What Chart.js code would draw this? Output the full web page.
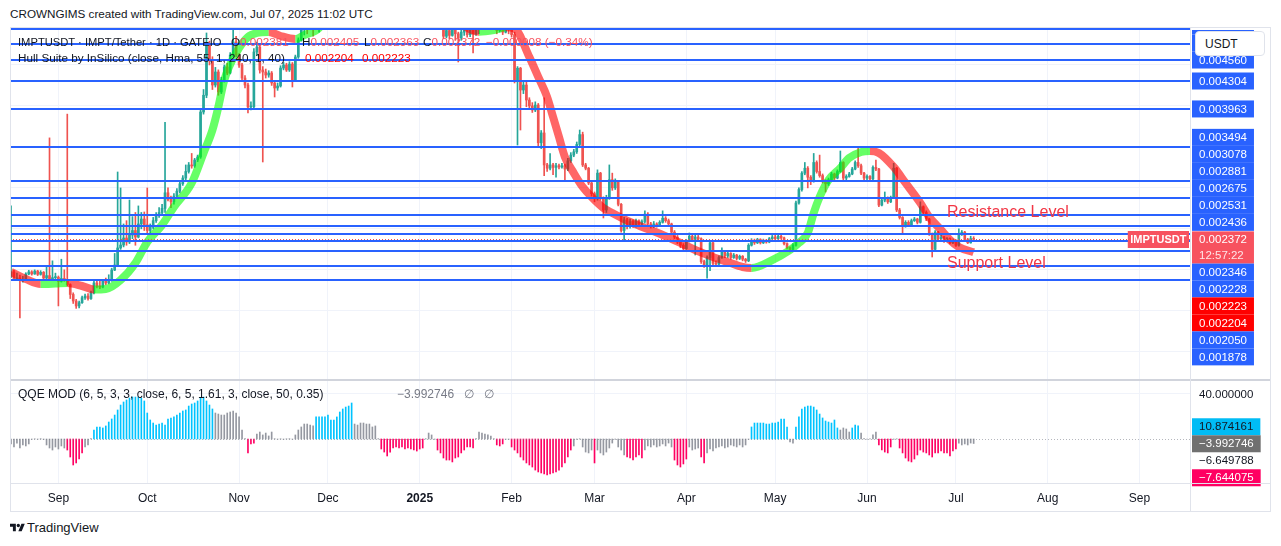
<!DOCTYPE html>
<html>
<head>
<meta charset="utf-8">
<title>IMPTUSDT 1D</title>
<script src="https://cdn.jsdelivr.net/npm/chart.js@4.4.1/dist/chart.umd.min.js"></script>
<style>
  html, body { margin: 0; padding: 0; background: #fff; }
  body { width: 1281px; height: 546px; position: relative; overflow: hidden;
         font-family: "Liberation Sans", Arial, sans-serif; color: #131722; }
  .abs { position: absolute; white-space: nowrap; }
  .box { position: absolute; }
  .txt { font-size: 11.7px; line-height: 14px; }
  .red { color: #f7525f; }
  .hot { color: #ff0000; }
  .line { position: absolute; background: #e0e3eb; }
</style>
</head>
<body>

<div class="abs txt" style="left:10px;top:7px;">CROWNGIMS created with TradingView.com, Jul 07, 2025 11:02 UTC</div>

<div class="box" style="left:10px;top:28px;width:1260px;height:352px;"><canvas id="mainChart"></canvas></div>
<div class="box" style="left:10px;top:380px;width:1260px;height:131px;"><canvas id="qqeChart"></canvas></div>

<!-- frame -->
<div class="line" style="left:10px;top:27px;width:1260px;height:1px;"></div>
<div class="line" style="left:10px;top:379px;width:1260px;height:2px;background:#d1d4dc;"></div>
<div class="line" style="left:10px;top:483px;width:1260px;height:1px;"></div>
<div class="line" style="left:10px;top:511px;width:1260px;height:1px;"></div>
<div class="line" style="left:10px;top:27px;width:1px;height:485px;"></div>
<div class="line" style="left:1190px;top:27px;width:1px;height:485px;"></div>
<div class="line" style="left:1270px;top:27px;width:1px;height:485px;"></div>

<!-- legends -->
<div class="abs txt" style="left:18px;top:35px;font-size:11.2px;">IMPTUSDT · IMPT/Tether · 1D · GATEIO</div>
<div class="abs txt" style="left:231px;top:35px;">O<span class="red">0.002381</span></div>
<div class="abs txt" style="left:302px;top:35px;">H<span class="red">0.002405</span></div>
<div class="abs txt" style="left:364px;top:35px;">L<span class="red">0.002363</span></div>
<div class="abs txt" style="left:423px;top:35px;">C<span class="red">0.002372</span></div>
<div class="abs txt red" style="left:486px;top:35px;">−0.000008 (−0.34%)</div>
<div class="abs txt" style="left:18px;top:51px;">Hull Suite by InSilico (close, Hma, 55, 1, 240, 1, 40)</div>
<div class="abs txt hot" style="left:305px;top:51px;">0.002204</div>
<div class="abs txt hot" style="left:362px;top:51px;">0.002223</div>
<div class="abs txt" style="left:18px;top:387px;font-size:12px;">QQE MOD (6, 5, 3, 3, close, 6, 5, 1.61, 3, close, 50, 0.35)</div>
<div class="abs txt" style="left:397px;top:387px;font-size:12px;color:#787b86;">−3.992746&nbsp;&nbsp; ∅&nbsp;&nbsp; ∅</div>

<div class="abs txt" style="left:1195px;top:31px;width:70px;height:25px;line-height:25px;border:1px solid #e0e3eb;border-radius:4px;background:#fff;padding-left:9px;box-sizing:border-box;font-size:12px;">USDT</div>

<div class="abs" style="left:10px;top:521px;height:14px;">
  <svg width="15" height="12" viewBox="0 0 36 28" style="vertical-align:top;margin-top:1px;">
    <path d="M14 22H7V11H0V4h14v18zM28 22h-8l7.5-18h8L28 22z" fill="#131722"/>
    <circle cx="20" cy="8" r="4" fill="#131722"/>
  </svg><span style="font-size:13px;line-height:14px;margin-left:2px;vertical-align:top;">TradingView</span>
</div>

<script>
// daily candles, index 0 = 16 Aug 2024 ... index 325 = 7 Jul 2025
// prices in millionths of USDT (2372 = 0.002372)
const firstOpen = 1920;
const closes = [
  1975,1890,1900,1870,1880,1950,1975,1950,1985,1945,
  1970,1900,1930,1880,1905,1910,1860,1895,1880,1820,
  1700,1620,1560,1600,1660,1680,1650,1720,1840,1800,
  1790,1860,1840,1876,1998,2059,2267,2303,2389,2340,
  2425,2480,2400,2560,2620,2550,2480,2520,2600,2660,
  2700,2750,2940,2860,2830,2900,2960,3050,3120,3200,
  3280,3267,3340,3377,3926,4130,4740,4560,4255,4414,
  4170,4316,4475,4401,4621,4780,4621,4499,4340,4255,
  3987,3990,4658,4719,4438,4414,4377,4401,4280,4219,
  4243,4462,4499,4438,4511,4316,4597,4804,4963,5050,
  5000,5100,5050,5150,5200,5300,5450,5600,5750,5700,
  5900,6100,6000,6200,6350,6250,6300,6150,6200,6050,
  5950,6000,5850,5700,5750,5550,5400,5450,5350,5300,
  5400,5250,5300,5200,5250,5150,5200,5100,5150,5050,
  5150,5200,5150,5050,4980,5000,4850,4920,4860,4950,
  4880,4830,4900,4950,4870,4930,4880,4940,4990,5050,
  5100,5150,5100,5000,4920,4970,4900,4960,4930,4870,
  4316,4460,4194,4255,4072,4000,3950,4011,3550,3670,
  3280,3240,3280,3250,3270,3255,3270,3230,3330,3400,
  3440,3530,3650,3280,3240,3060,2930,2870,3180,2870,
  2730,2880,3100,3000,3080,2800,2480,2610,2530,2590,
  2540,2600,2560,2590,2680,2560,2530,2560,2540,2580,
  2630,2600,2560,2460,2400,2340,2300,2260,2350,2410,
  2370,2400,2380,2100,2060,2150,2330,2080,2070,2150,
  2220,2170,2200,2150,2180,2140,2165,2130,2110,2300,
  2360,2330,2370,2330,2360,2340,2380,2400,2380,2410,
  2390,2320,2270,2250,2300,2816,2980,3180,3240,3130,
  3080,3310,3200,3150,3080,3050,3100,3170,3120,3200,
  3310,3120,3140,3170,3230,3310,3270,3180,3120,3140,
  3110,3250,3230,2790,2850,2870,2830,2880,3240,2730,
  2640,2540,2580,2550,2600,2620,2580,2770,2700,2620,
  2440,2250,2460,2380,2400,2350,2380,2330,2360,2300,
  2440,2460,2370,2330,2381,2372
];
const highs = [
  2780,1995,1960,1935,1920,1965,1995,1990,2000,1995,
  1990,1980,2050,3610,2110,1960,1925,2130,2000,3900,
  1830,1720,1640,1620,1680,1705,1710,1740,1860,1870,
  1860,1880,1900,1940,2020,2200,3194,2999,2560,2600,
  2852,2650,2700,2780,2700,2706,2999,2560,2640,2700,
  2760,2800,3800,3000,2900,2930,2990,3080,3150,3280,
  3310,3420,3360,3400,3960,4200,4890,4790,4600,4470,
  4440,4350,4500,4520,4650,4938,4850,4640,4520,4370,
  4280,4050,4700,4780,4740,4480,4450,4430,4420,4300,
  4280,4490,4530,4520,4540,4530,4620,4830,5000,5100,
  5120,5150,5160,5200,5300,5380,5550,5700,5850,5900,
  6000,6250,6200,6300,6500,6450,6400,6350,6300,6250,
  6100,6100,6050,5900,5850,5800,5600,5550,5500,5400,
  5480,5420,5380,5330,5320,5280,5260,5230,5200,5180,
  5200,5260,5240,5170,5070,5060,5050,4950,4940,4990,
  4970,4900,4930,5000,4960,4960,4950,4980,5050,5100,
  5150,5200,5180,5120,5010,5000,4990,4990,4980,4990,
  4900,4480,4470,4300,4290,4100,4040,4050,4030,3700,
  4100,3300,3420,3300,3300,3290,3300,3290,3360,3430,
  3470,3560,3706,3680,3300,3250,3080,2950,3220,3190,
  2890,2910,3280,3180,3110,3090,2810,2640,2630,2620,
  2610,2620,2610,2610,2720,2700,2580,2590,2575,2600,
  2720,2650,2620,2570,2480,2420,2360,2320,2370,2450,
  2430,2430,2420,2390,2120,2170,2350,2340,2110,2170,
  2270,2230,2220,2210,2200,2190,2180,2175,2140,2320,
  2380,2375,2385,2380,2375,2370,2395,2420,2440,2425,
  2420,2400,2330,2280,2320,2840,3000,3200,3310,3260,
  3150,3420,3330,3400,3170,3100,3120,3190,3180,3220,
  3450,3320,3160,3190,3250,3330,3500,3290,3190,3160,
  3150,3270,3340,3240,2870,2950,2890,2900,3300,3250,
  2750,2650,2600,2600,2620,2640,2630,2830,2780,2720,
  2630,2450,2480,2470,2420,2410,2395,2390,2375,2370,
  2500,2480,2470,2385,2410,2405
];
const lows = [
  1905,1880,1870,1413,1850,1870,1940,1935,1945,1930,
  1935,1885,1890,1870,1870,1885,1560,1850,1860,1805,
  1650,1590,1530,1535,1590,1640,1630,1640,1705,1780,
  1770,1780,1820,1830,1860,1990,2040,2250,2280,2300,
  2320,2380,2300,2390,2500,2480,2440,2450,2500,2580,
  2640,2680,2700,2840,2760,2800,2880,2940,3030,3100,
  3180,3240,3250,3320,3360,3900,4100,4500,4200,4230,
  4130,4150,4290,4380,4390,4600,4600,4470,4310,4220,
  3914,3950,3975,4620,4400,3316,4340,4350,4250,4109,
  4190,4230,4440,4420,4420,4231,4300,4580,4790,4865,
  4880,4930,4850,4960,4900,5050,5200,5380,5520,5600,
  5650,5850,5900,5950,6100,6150,6150,6050,6050,5950,
  5850,5850,5750,5600,5600,5450,4960,5300,5250,5200,
  5250,5150,5200,5120,5150,5080,5100,5040,5060,5000,
  5020,5120,5090,5000,4960,4950,4820,4830,4820,4850,
  4800,4536,4800,4860,4840,4846,4646,4860,4880,4950,
  4990,5060,5050,4930,4880,4900,4870,4890,4880,4840,
  4280,3523,3706,4150,3990,3960,3920,3930,3500,3480,
  3150,3200,3220,3160,3130,3230,3240,3100,3210,3310,
  3380,3420,3510,3260,3220,3040,2900,2830,2850,2850,
  2633,2700,2860,2970,2980,2780,2460,2364,2500,2510,
  2520,2520,2540,2540,2570,2540,2510,2515,2520,2530,
  2570,2580,2540,2440,2380,2320,2270,2240,2250,2340,
  2350,2181,2360,2080,2030,1900,1990,2060,2040,2060,
  2140,2150,2150,2130,2140,2120,2125,2110,2090,2100,
  2290,2310,2320,2315,2320,2325,2330,2370,2365,2370,
  2375,2305,2255,2220,2240,2290,2800,2960,3160,3000,
  3040,3070,3180,3130,3060,2950,3030,3090,3100,3110,
  3190,3100,3100,3130,3160,3220,3250,3160,3090,3100,
  3090,3100,3210,2770,2780,2830,2810,2820,2870,2710,
  2620,2450,2520,2530,2540,2590,2560,2570,2680,2600,
  2420,2157,2240,2360,2370,2335,2340,2315,2320,2285,
  2290,2420,2355,2320,2325,2363
];
// daily candles open at the previous close
const opens = closes.map((c, i) => i === 0 ? firstOpen : closes[i - 1]);

// Hull Suite band, read every few days
const hullDays = [0,5,10,15,19,24,28,32,37,42,46,51,55,61,65,68,70,72,76,80,83,87,91,96,99,104,
  110,120,130,140,146,152,156,158,163,167,170,175,178,181,183,185,187,190,193,196,200,203,209,214,
  220,226,231,237,242,247,250,257,263,266,269,271,273,276,280,283,287,290,293,298,302,307,310,314,317,320,325];
const hullValues = [1974,1888,1827,1833,1840,1803,1760,1766,1876,2084,2340,2547,2767,3060,3426,3706,3987,4316,4646,4841,4890,4902,4853,4816,4865,4951,
  5300,5600,5500,5200,5150,5000,4920,4905,4925,4960,4945,4597,4353,4109,3865,3621,3377,3182,3011,2889,2755,2694,2584,2511,
  2425,2328,2242,2157,2096,2035,2023,2120,2242,2328,2450,2694,2889,3096,3243,3365,3438,3450,3426,3255,3060,2816,2645,2486,2364,2279,2214];

// horizontal levels drawn on the chart
const levels = [4938, 4755, 4560, 4304, 3963, 3494, 3078, 2881, 2675, 2531, 2436, 2346, 2228, 2050, 1878];
const hullLast = [2223, 2204];
const lastPrice = 2372;

// QQE MOD histogram, one bar per day
const qqeValues = [
  -4.4,-7.1,-3.6,-8.0,-5.3,-6.2,-4.4,-0.3,0.2,-0.2,
  0.3,-0.4,-5.3,-8.0,-9.8,-7.1,-8.9,-6.2,-8.0,-9.8,
  -16.0,-23.1,-21.3,-17.8,-12.4,-7.1,-5.3,0.3,8.0,10.7,
  10.7,9.8,11.6,15.1,17.8,21.3,25.8,30.2,32.9,34.7,
  36.4,37.3,37.3,37.3,36.4,33.8,23.1,16.9,14.2,12.4,
  13.3,14.2,12.4,17.8,18.7,19.6,21.3,23.1,24.9,25.8,
  29.3,31.1,32.0,33.8,36.4,37.3,33.8,30.2,26.7,23.1,
  22.2,21.3,21.3,23.1,24.0,24.9,23.1,19.6,8.0,0.4,
  -12.4,-4.4,-3.6,4.4,6.2,3.6,5.3,2.7,6.2,0.3,
  -0.2,0.2,-0.3,0.2,0.3,-0.2,3.6,8.0,10.7,13.3,
  13.3,12.4,11.6,19.6,19.6,19.6,19.6,21.3,16.9,16.9,
  19.6,24.0,26.7,28.4,29.3,32.0,13.3,12.4,14.2,14.2,
  13.3,13.3,10.7,11.6,0.3,-8.9,-11.6,-15.1,-11.6,-8.0,
  -7.1,-8.0,-7.1,-8.9,-8.0,-8.9,-9.8,-10.7,-8.9,-8.0,
  0.3,5.3,3.6,-0.3,-9.8,-12.4,-16.9,-18.7,-18.7,-20.4,
  -16.9,-16.0,-12.4,-9.8,-7.1,-7.1,-8.0,0.3,6.2,5.3,
  4.4,3.6,2.7,0.3,-5.3,-6.2,-4.4,-0.3,-0.3,-7.1,
  -9.8,-12.4,-16.0,-18.7,-21.3,-23.1,-24.9,-27.6,-29.3,-30.2,
  -31.1,-32.0,-31.1,-30.2,-29.3,-27.6,-24.9,-21.3,-16.0,-9.8,
  -6.2,-0.3,0.2,-7.1,-11.6,-12.4,-9.8,-21.3,-9.8,-12.4,
  -14.2,-11.6,-8.0,-3.6,-0.3,-7.1,-9.8,-14.2,-16.0,-16.9,
  -18.7,-16.0,-14.2,-16.9,-9.8,-6.2,-7.1,-5.3,-7.1,-6.2,
  -4.4,-6.2,-3.6,-7.1,-18.7,-23.1,-24.9,-22.2,-17.8,-7.1,
  -9.8,-8.9,-8.0,-16.0,-21.3,-12.4,-8.9,-10.7,-8.0,-7.1,
  -6.2,-8.0,-7.1,-5.3,-6.2,-7.1,-5.3,-7.1,-5.3,-0.3,
  10.7,14.2,14.2,14.2,14.2,13.3,13.3,14.2,14.2,15.1,
  17.8,17.8,10.7,-2.7,-3.6,10.7,19.6,26.7,28.4,29.3,
  29.3,28.4,25.8,22.2,18.7,16.0,15.1,14.2,16.9,9.8,
  8.0,9.8,8.9,6.2,9.8,12.4,11.6,5.3,0.3,-0.2,
  0.2,3.6,6.2,-5.3,-9.8,-11.6,-12.4,-7.1,-0.3,0.2,
  -8.0,-12.4,-16.9,-19.6,-20.4,-17.8,-14.2,-9.8,-11.6,-12.4,
  -14.2,-16.0,-12.4,-12.4,-10.7,-12.4,-12.4,-15.1,-10.7,-8.9,
  -3.6,-5.3,-4.4,-5.3,-3.6,-3.992746
];
// bar tone: b = blue, g = grey, m = magenta
const qqeTone = [
  "gggggggggg","gggggggggm","mmmmmgggbb","bbbbbbbbbb","bbbbbbbbbb",
  "bbbbbbbbbb","bbbbbbbbbg","gggggggggg","mmmggggggg","gggggggggg",
  "gggbbbbbbb","bbbbbbgggg","gggggmmmmm","mmmmmmmmmm","ggggmmmmmm",
  "mmmmmmmggg","ggggmmmggm","mmmmmmmmmm","mmmmmmmmmm","gggggggmgg",
  "ggggggggmm","mmmmgggggg","ggggmmmmmg","gggmmggggg","gggggggggg",
  "bbbbbbbbbb","bbbggbbbbb","bbbbbbbbbb","ggggbbbggg","gggmmmmmgg",
  "mmmmmmmmmm","mmmmmmmmmm","gggggg"
].join("");
const qqeTags = [
  { v: 40, text: "40.000000", bg: null, fg: "#131722" },
  { v: 10.874161, text: "10.874161", bg: "#00bcf5", fg: "#131722" },
  { v: -3.992746, text: "−3.992746", bg: "#707070", fg: "#ffffff" },
  { v: -6.649788, text: "−6.649788", bg: null, fg: "#131722" },
  { v: -7.644075, text: "−7.644075", bg: "#ff0062", fg: "#ffffff" }
];

// time axis: month starts as day index
const monthDays = [16, 46, 77, 107, 138, 169, 197, 228, 258, 289, 319, 350, 381];
const monthLabels = ["Sep", "Oct", "Nov", "Dec", "2025", "Feb", "Mar", "Apr", "May", "Jun", "Jul", "Aug", "Sep"];
const priceGrid = [1000, 1500, 2000, 2500, 3000, 3500, 4000, 4500];

const UP = "#26a69a", DOWN = "#ef5350";
const BLUE = "#2962ff";
const GRID = "#f0f3fa";
const HULL_UP = "rgba(0,255,0,0.6)", HULL_DOWN = "rgba(255,0,0,0.6)";
const TONES = { b: "#00c3ff", g: "#9598a1", m: "#ff0062" };
const TAG_FONT = '11.5px "Liberation Sans", Arial, sans-serif';
const X_MIN = -0.34, X_MAX = 398.04;

const fmt = v => (v / 1e6).toFixed(6);

function tag(ctx, left, cy, text, bg, fg, width) {
  ctx.font = TAG_FONT;
  const w = width || ctx.measureText(text).width + 14;
  if (bg) {
    ctx.fillStyle = bg;
    ctx.fillRect(left, cy - 8.5, w, 17);
  }
  ctx.fillStyle = fg;
  ctx.textBaseline = "middle";
  ctx.textAlign = "left";
  ctx.fillText(text, left + 7, cy + 0.5);
}

const xGrid = {
  type: "linear", min: X_MIN, max: X_MAX, offset: false,
  afterBuildTicks: s => { s.ticks = monthDays.map(v => ({ value: v })); },
  grid: { color: GRID, drawTicks: false, offset: false },
  border: { display: false }
};

// levels, last price line, annotations, price axis labels
const mainDeco = {
  id: "mainDeco",
  afterDatasetsDraw(chart) {
    const { ctx, chartArea: a, scales: { x, y } } = chart;
    ctx.save();
    ctx.beginPath();
    ctx.rect(a.left, a.top, a.right - a.left, a.bottom - a.top);
    ctx.clip();

    ctx.strokeStyle = BLUE;
    ctx.lineWidth = 2;
    levels.forEach(v => {
      const py = Math.round(y.getPixelForValue(v));
      ctx.beginPath();
      ctx.moveTo(a.left, py);
      ctx.lineTo(a.right, py);
      ctx.stroke();
    });

    const ly = Math.round(y.getPixelForValue(lastPrice)) + 0.5;
    ctx.strokeStyle = DOWN;
    ctx.lineWidth = 1;
    ctx.setLineDash([1, 2]);
    ctx.beginPath();
    ctx.moveTo(a.left, ly);
    ctx.lineTo(a.right, ly);
    ctx.stroke();
    ctx.setLineDash([]);

    ctx.fillStyle = "#f23645";
    ctx.font = '16px "Liberation Sans", Arial, sans-serif';
    ctx.textBaseline = "alphabetic";
    ctx.fillText("Resistance Level", x.getPixelForValue(316), y.getPixelForValue(2640));
    ctx.fillText("Support Level", x.getPixelForValue(316), y.getPixelForValue(2025));

    // symbol tag at the right edge of the pane
    ctx.font = 'bold 11px "Liberation Sans", Arial, sans-serif';
    const sw = ctx.measureText("IMPTUSDT").width + 5;
    ctx.fillStyle = "#f7525f";
    ctx.fillRect(a.right - sw - 1, ly - 8.5, sw, 17);
    ctx.fillStyle = "#fff";
    ctx.textBaseline = "middle";
    ctx.fillText("IMPTUSDT", a.right - sw + 1.5, ly + 0.5);
    ctx.restore();
  },
  afterDraw(chart) {
    const { ctx, chartArea: a, scales: { y } } = chart;
    const left = a.right + 2;
    ctx.save();
    ctx.beginPath();
    ctx.rect(a.right, 2, 90, a.bottom - 2);
    ctx.clip();

    ctx.font = TAG_FONT;
    const w = ctx.measureText(fmt(lastPrice)).width + 14;
    const cy = y.getPixelForValue(lastPrice);

    // labels above the last price stack upward, below it stack downward
    let top = cy - 8.5;
    levels.filter(v => v > lastPrice).sort((p, q) => p - q).forEach(v => {
      const c = Math.min(y.getPixelForValue(v), top - 8.5);
      tag(ctx, left, c, fmt(v), BLUE, "#fff", w);
      top = c - 8.5;
    });
    const below = levels.filter(v => v < lastPrice).map(v => ({ v, bg: BLUE }))
      .concat(hullLast.map(v => ({ v, bg: "#ff0000" })))
      .sort((p, q) => q.v - p.v);
    let bottom = cy + 24;
    below.forEach(it => {
      const c = Math.max(y.getPixelForValue(it.v), bottom + 8.5);
      tag(ctx, left, c, fmt(it.v), it.bg, "#fff", w);
      bottom = c + 8.5;
    });

    ctx.fillStyle = "#f7525f";
    ctx.fillRect(left, cy - 8, w, 32);
    tag(ctx, left, cy, fmt(lastPrice), null, "#fff", w);
    tag(ctx, left, cy + 16, "12:57:22", null, "rgba(255,255,255,0.85)", w);
    ctx.restore();
  }
};

const qqeDeco = {
  id: "qqeDeco",
  afterDatasetsDraw(chart) {
    const { ctx, chartArea: a, scales: { y } } = chart;
    const zy = Math.round(y.getPixelForValue(0)) + 0.5;
    ctx.save();
    ctx.strokeStyle = "rgba(120,123,134,0.55)";
    ctx.lineWidth = 1;
    ctx.setLineDash([1, 2]);
    ctx.beginPath();
    ctx.moveTo(a.left, zy);
    ctx.lineTo(a.right, zy);
    ctx.stroke();
    ctx.restore();
  },
  afterDraw(chart) {
    const { ctx, chartArea: a, scales: { y } } = chart;
    ctx.save();
    let bottom = -Infinity;
    qqeTags.slice().sort((p, q) => q.v - p.v).forEach(t => {
      const c = Math.max(y.getPixelForValue(t.v), bottom + 8.5);
      tag(ctx, a.right + 2, c, t.text, t.bg, t.fg);
      bottom = c + 8.5;
    });
    ctx.restore();
  }
};

const idx = closes.map((_, i) => i);
const candleColors = idx.map(i => closes[i] >= opens[i] ? UP : DOWN);

new Chart(document.getElementById("mainChart"), {
  type: "bar",
  data: {
    datasets: [
      {
        type: "line",
        label: "Hull",
        data: hullDays.map((d, k) => ({ x: d, y: hullValues[k] })),
        borderColor: HULL_UP,
        borderWidth: 8,
        pointRadius: 0,
        cubicInterpolationMode: "monotone",
        segment: { borderColor: c => c.p1.parsed.y >= c.p0.parsed.y ? HULL_UP : HULL_DOWN }
      },
      {
        label: "Body",
        data: idx.map(i => ({ x: i, y: [opens[i], closes[i]] })),
        backgroundColor: candleColors,
        barThickness: 2,
        minBarLength: 1,
        grouped: false
      },
      {
        label: "Wick",
        data: idx.map(i => ({ x: i, y: [lows[i], highs[i]] })),
        backgroundColor: candleColors,
        barThickness: 1,
        grouped: false
      }
    ]
  },
  options: {
    responsive: true,
    maintainAspectRatio: false,
    animation: false,
    layout: { padding: { right: 80 } },
    plugins: { legend: { display: false }, tooltip: { enabled: false } },
    scales: {
      x: Object.assign({}, xGrid, { ticks: { display: false }, afterFit: s => { s.height = 0; } }),
      y: {
        min: 656.2, max: 4950.6,
        afterBuildTicks: s => { s.ticks = priceGrid.map(v => ({ value: v })); },
        ticks: { display: false },
        grid: { color: GRID, drawTicks: false },
        border: { display: false },
        afterFit: s => { s.width = 0; }
      }
    }
  },
  plugins: [mainDeco]
});

new Chart(document.getElementById("qqeChart"), {
  type: "bar",
  data: {
    datasets: [{
      label: "QQE MOD",
      data: idx.map(i => ({ x: i, y: qqeValues[i] })),
      backgroundColor: idx.map(i => TONES[qqeTone[i]] || TONES.g),
      barThickness: 1,
      grouped: false
    }]
  },
  options: {
    responsive: true,
    maintainAspectRatio: false,
    animation: false,
    layout: { padding: { right: 80 } },
    plugins: { legend: { display: false }, tooltip: { enabled: false } },
    scales: {
      x: Object.assign({}, xGrid, {
        ticks: {
          autoSkip: false, maxRotation: 0, padding: 8, color: "#131722",
          font: c => ({ family: '"Liberation Sans", Arial, sans-serif', size: 12,
                        weight: c.tick && c.tick.value === 138 ? "bold" : "normal" }),
          callback: v => monthLabels[monthDays.indexOf(v)]
        },
        afterFit: s => { s.height = 28; }
      }),
      y: {
        min: -39.11, max: 52.44,
        afterBuildTicks: s => { s.ticks = [{ value: 40 }]; },
        ticks: { display: false },
        grid: { color: GRID, drawTicks: false },
        border: { display: false },
        afterFit: s => { s.width = 0; }
      }
    }
  },
  plugins: [qqeDeco]
});
</script>
</body>
</html>
